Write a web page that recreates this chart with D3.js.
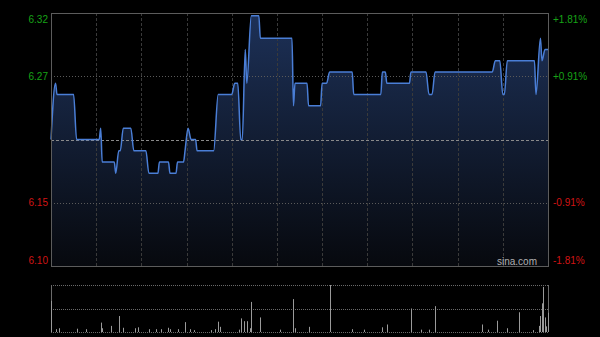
<!DOCTYPE html>
<html>
<head>
<meta charset="utf-8">
<script src="https://cdn.jsdelivr.net/npm/d3@7/dist/d3.min.js"></script>
<style>
	body { margin: 0; background: #000; }
	svg { display: block; }
	text { font-family: "Liberation Sans", Arial, sans-serif; font-size: 10px; }
</style>
</head>
<body>
<svg id="chart" width="600" height="337"></svg>
<script>
// intraday minutes (0 = 9:30, 330 = 16:00) and prices
var priceMinutes = [0, 3, 4, 15, 17, 32, 33, 34, 42, 43, 45, 46, 48, 53, 55, 63, 65, 71, 72, 78, 79, 83, 84, 88, 89, 91, 93, 96, 97, 108, 111, 120, 122, 124, 126, 127, 129, 130, 133, 138, 139, 160, 161, 162, 170, 171, 179, 180, 183, 185, 200, 201, 219, 220, 222, 223, 238, 239, 249, 251, 253, 255, 293, 295, 298, 300, 301, 303, 321, 322, 325, 326, 328, 330];
var priceValues = [6.21, 6.26, 6.25, 6.25, 6.21, 6.21, 6.22, 6.19, 6.19, 6.18, 6.20, 6.20, 6.22, 6.22, 6.20, 6.20, 6.18, 6.18, 6.19, 6.19, 6.18, 6.18, 6.19, 6.19, 6.20, 6.22, 6.21, 6.21, 6.20, 6.20, 6.25, 6.25, 6.26, 6.26, 6.21, 6.21, 6.29, 6.26, 6.32, 6.32, 6.30, 6.30, 6.24, 6.26, 6.26, 6.24, 6.24, 6.26, 6.26, 6.27, 6.27, 6.25, 6.25, 6.27, 6.27, 6.26, 6.26, 6.27, 6.27, 6.25, 6.25, 6.27, 6.27, 6.28, 6.28, 6.25, 6.25, 6.28, 6.28, 6.25, 6.30, 6.28, 6.29, 6.29];

// volume per minute, relative units (100 = top of panel)
var volMinutes = [0, 3, 5, 17, 23, 33, 34, 40, 45, 48, 56, 58, 65, 70, 73, 78, 79, 84, 89, 92, 95, 106, 109, 111, 112, 125, 126, 128, 130, 132, 133, 139, 152, 161, 162, 171, 185, 200, 208, 220, 223, 239, 246, 251, 255, 286, 290, 296, 303, 311, 320, 324, 325, 326, 327, 328, 329, 330];
var volValues = [66, 6, 8, 7, 6, 20, 8, 13, 34, 9, 8, 10, 6, 6, 6, 9, 6, 6, 21, 6, 4, 4, 6, 22, 11, 5, 29, 23, 23, 8, 64, 31, 5, 70, 8, 11, 100, 6, 5, 10, 16, 50, 5, 5, 55, 16, 5, 24, 8, 42, 4, 13, 34, 61, 96, 31, 12, 41];

var prevClose = 6.21;
var rangePct = 0.0181;
var priceLabels = ["6.32", "6.27", "", "6.15", "6.10"];
var pctLabels = ["+1.81%", "+0.91%", "", "-0.91%", "-1.81%"];
var timeGrid = [30, 60, 90, 120, 150, 180, 210, 240, 270, 300];

(function drawChart() {
	var plotLeft = 51, plotRight = 548, plotTop = 13, plotBottom = 266;
	var volTop = 285, volBottom = 332;

	var svg = d3.select("#chart");

	var x = d3.scaleLinear().domain([0, 330]).range([plotLeft, plotRight]);
	var y = d3.scaleLinear()
		.domain([prevClose * (1 - rangePct), prevClose * (1 + rangePct)])
		.range([plotBottom, plotTop]);
	var yv = d3.scaleLinear().domain([0, 100]).range([volBottom, volTop]);

	var levels = [1, 0.5, 0, -0.5, -1].map(function (k) { return prevClose * (1 + k * rangePct); });

	var grad = svg.append("defs").append("linearGradient")
		.attr("id", "areaFill")
		.attr("gradientUnits", "userSpaceOnUse")
		.attr("x1", 0).attr("y1", plotTop).attr("x2", 0).attr("y2", plotBottom);
	grad.append("stop").attr("offset", "0%").attr("stop-color", "#1d3158");
	grad.append("stop").attr("offset", "100%").attr("stop-color", "#07090e");

	var points = priceMinutes.map(function (m, i) { return [m, priceValues[i]]; });

	// area under the price line
	svg.append("path")
		.datum(points)
		.attr("fill", "url(#areaFill)")
		.attr("d", d3.area()
			.curve(d3.curveMonotoneX)
			.x(function (d) { return x(d[0]); })
			.y0(plotBottom)
			.y1(function (d) { return y(d[1]); }));

	// vertical half-hour grid
	svg.append("g").selectAll("line")
		.data(timeGrid)
		.enter().append("line")
		.attr("x1", function (d) { return Math.round(x(d)) + 0.5; })
		.attr("x2", function (d) { return Math.round(x(d)) + 0.5; })
		.attr("y1", plotTop).attr("y2", plotBottom)
		.attr("stroke", "#3a3a3a")
		.attr("stroke-dasharray", "3,2");

	// horizontal grid
	svg.append("g").selectAll("line")
		.data([levels[1], levels[2], levels[3]])
		.enter().append("line")
		.attr("x1", plotLeft).attr("x2", plotRight)
		.attr("y1", function (d) { return Math.round(y(d)) + 0.5; })
		.attr("y2", function (d) { return Math.round(y(d)) + 0.5; })
		.attr("stroke", function (d, i) { return i === 1 ? "#8a8a8a" : "#5a5a5a"; })
		.attr("stroke-dasharray", function (d, i) { return i === 1 ? "3,2" : "1,2"; });

	// price line
	svg.append("path")
		.datum(points)
		.attr("fill", "none")
		.attr("stroke", "#4a7ed6")
		.attr("stroke-width", 1.5)
		.attr("d", d3.line()
			.curve(d3.curveMonotoneX)
			.x(function (d) { return x(d[0]); })
			.y(function (d) { return y(d[1]); }));

	// frame
	svg.append("rect")
		.attr("x", plotLeft + 0.5).attr("y", plotTop + 0.5)
		.attr("width", plotRight - plotLeft).attr("height", plotBottom - plotTop)
		.attr("fill", "none")
		.attr("stroke", "#5c5c5c");

	// axis labels
	function labelY(i) {
		var v = y(levels[i]);
		if (i === 0) return v + 6;
		if (i === 4) return v - 6;
		return v;
	}
	function labelColor(i) { return i < 2 ? "#17a317" : "#d11414"; }

	svg.append("g").selectAll("text")
		.data(priceLabels)
		.enter().append("text")
		.attr("x", plotLeft - 3)
		.attr("y", function (d, i) { return labelY(i); })
		.attr("dy", "0.35em")
		.attr("text-anchor", "end")
		.attr("fill", function (d, i) { return labelColor(i); })
		.text(function (d) { return d; });

	svg.append("g").selectAll("text")
		.data(pctLabels)
		.enter().append("text")
		.attr("x", plotRight + 5)
		.attr("y", function (d, i) { return labelY(i); })
		.attr("dy", "0.35em")
		.attr("fill", function (d, i) { return labelColor(i); })
		.text(function (d) { return d; });

	svg.append("text")
		.attr("x", plotRight - 11)
		.attr("y", plotBottom - 5)
		.attr("dy", "0.35em")
		.attr("text-anchor", "end")
		.attr("fill", "#b0b0b0")
		.text("sina.com");

	// volume panel
	var vg = svg.append("g");
	vg.selectAll("line.vgrid")
		.data([100, 50, 0])
		.enter().append("line")
		.attr("class", "vgrid")
		.attr("x1", plotLeft).attr("x2", plotRight)
		.attr("y1", function (d) { return Math.round(yv(d)) + 0.5; })
		.attr("y2", function (d) { return Math.round(yv(d)) + 0.5; })
		.attr("stroke", "#6a6a6a")
		.attr("stroke-dasharray", "1,1");

	vg.append("line")
		.attr("x1", plotLeft + 0.5).attr("x2", plotLeft + 0.5)
		.attr("y1", volTop).attr("y2", volBottom)
		.attr("stroke", "#6a6a6a");
	vg.append("line")
		.attr("x1", plotRight + 0.5).attr("x2", plotRight + 0.5)
		.attr("y1", volTop).attr("y2", volBottom)
		.attr("stroke", "#6a6a6a");

	vg.selectAll("rect.vol")
		.data(volMinutes)
		.enter().append("rect")
		.attr("class", "vol")
		.attr("x", function (d) { return Math.round(x(d)); })
		.attr("width", 1)
		.attr("y", function (d, i) { return yv(volValues[i]); })
		.attr("height", function (d, i) { return volBottom - yv(volValues[i]); })
		.attr("fill", "#9a9a9a");
})();
</script>
</body>
</html>
